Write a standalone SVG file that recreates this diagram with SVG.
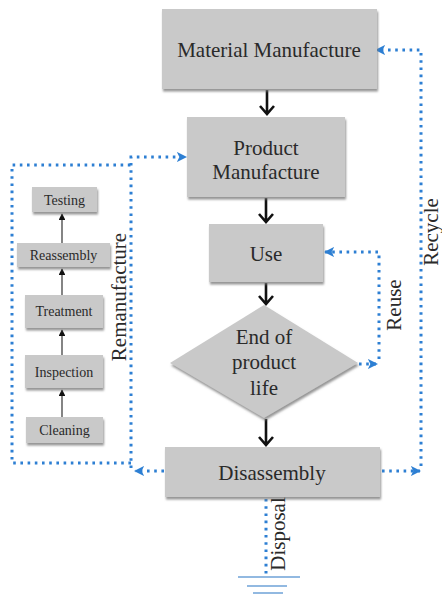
<svg xmlns="http://www.w3.org/2000/svg" width="442" height="594" viewBox="0 0 442 594">
<style>
.box{fill:#c9c9c9;filter:url(#sh)}
.t{font-family:"Liberation Serif","Times New Roman",serif;font-size:21px;fill:#2a2a2a;text-anchor:middle;dominant-baseline:central}
.s{font-size:14px}
.dot{fill:none;stroke:#2d7fd3;stroke-width:3;stroke-dasharray:2.6 4.6}
.blk{fill:none;stroke:#111;stroke-width:2.6}
.thin{fill:none;stroke:#333;stroke-width:1.2}
.gnd{stroke:#6fa3d8;stroke-width:1.5}
</style>
<defs>
<filter id="sh" x="-10%" y="-10%" width="130%" height="140%">
<feDropShadow dx="1" dy="2.5" stdDeviation="1.2" flood-color="#7a7a7a" flood-opacity="0.8"/>
</filter>
<marker id="ba" viewBox="0 0 10 10" refX="9" refY="5" markerWidth="3.4" markerHeight="3.4" orient="auto" markerUnits="strokeWidth">
<path d="M0,0 L10,5 L0,10 L2.5,5 Z" fill="#2d7fd3"/>
</marker>
<marker id="sa" viewBox="0 0 10 10" refX="9" refY="5" markerWidth="5.5" markerHeight="5.5" orient="auto" markerUnits="strokeWidth">
<path d="M0,0 L10,5 L0,10 Z" fill="#111"/>
</marker>
</defs>

<g id="connectors">
<!-- main flow arrows -->
<path class="blk" d="M267,90 V114 M260,106 L267,114 L274,106"/>
<path class="blk" d="M266,198 V222 M259,214 L266,222 L273,214"/>
<path class="blk" d="M266,283 V304 M259,296 L266,304 L273,296"/>
<path class="blk" d="M266,419 V445 M259,437 L266,445 L273,437"/>
<!-- remanufacture inner arrows -->
<path class="thin" d="M62,417 V390" marker-end="url(#sa)"/>
<path class="thin" d="M62,355 V330" marker-end="url(#sa)"/>
<path class="thin" d="M62,295 V269" marker-end="url(#sa)"/>
<path class="thin" d="M62,243 V214" marker-end="url(#sa)"/>
<!-- reuse -->
<path class="dot" d="M359,364 H377" marker-end="url(#ba)"/>
<path class="dot" d="M379,359 V252 H325" marker-end="url(#ba)"/>
<!-- recycle -->
<path class="dot" d="M382,471 H420" marker-end="url(#ba)"/>
<path class="dot" d="M421,466 V50 H376" marker-end="url(#ba)"/>
<!-- remanufacture -->
<path class="dot" d="M164,471 H135" marker-end="url(#ba)"/>
<path class="dot" d="M131,463 H12 V165 H131"/>
<path class="dot" d="M131,468 V157 H186" marker-end="url(#ba)"/>
<!-- disposal -->
<path class="dot" d="M266,499 V577"/>
<path class="gnd" d="M238,577 H300 M247,586 H287 M253,593 H283"/>
</g>

<g id="material-manufacture">
<rect class="box" x="162" y="9" width="215" height="80"/>
<text class="t" x="269" y="50">Material Manufacture</text>
</g>
<g id="product-manufacture">
<rect class="box" x="187" y="117" width="158" height="80"/>
<text class="t" x="266" y="148">Product</text>
<text class="t" x="266" y="172">Manufacture</text>
</g>
<g id="use">
<rect class="box" x="209" y="224" width="114" height="58"/>
<text class="t" x="266" y="254">Use</text>
</g>
<g id="end-of-life">
<polygon class="box" points="264,305 358,363 264,418 170,363"/>
<text class="t" x="264" y="337">End of</text>
<text class="t" x="264" y="362">product</text>
<text class="t" x="264" y="388">life</text>
</g>
<g id="disassembly">
<rect class="box" x="165" y="447" width="215" height="50"/>
<text class="t" x="272" y="473">Disassembly</text>
</g>

<g id="testing">
<rect class="box" x="32" y="187" width="65" height="25"/>
<text class="t s" x="64.5" y="200">Testing</text>
</g>
<g id="reassembly">
<rect class="box" x="17" y="243" width="93" height="24"/>
<text class="t s" x="63.5" y="255">Reassembly</text>
</g>
<g id="treatment">
<rect class="box" x="25" y="295" width="78" height="33"/>
<text class="t s" x="64" y="311">Treatment</text>
</g>
<g id="inspection">
<rect class="box" x="25" y="355" width="78" height="33"/>
<text class="t s" x="64" y="372">Inspection</text>
</g>
<g id="cleaning">
<rect class="box" x="26" y="417" width="77" height="26"/>
<text class="t s" x="64.5" y="430">Cleaning</text>
</g>

<g id="labels">
<text class="t" transform="translate(119,297) rotate(-90)">Remanufacture</text>
<text class="t" transform="translate(394,305) rotate(-90)">Reuse</text>
<text class="t" transform="translate(431,232) rotate(-90)">Recycle</text>
<text class="t" transform="translate(278,534) rotate(-90)">Disposal</text>
</g>
</svg>
